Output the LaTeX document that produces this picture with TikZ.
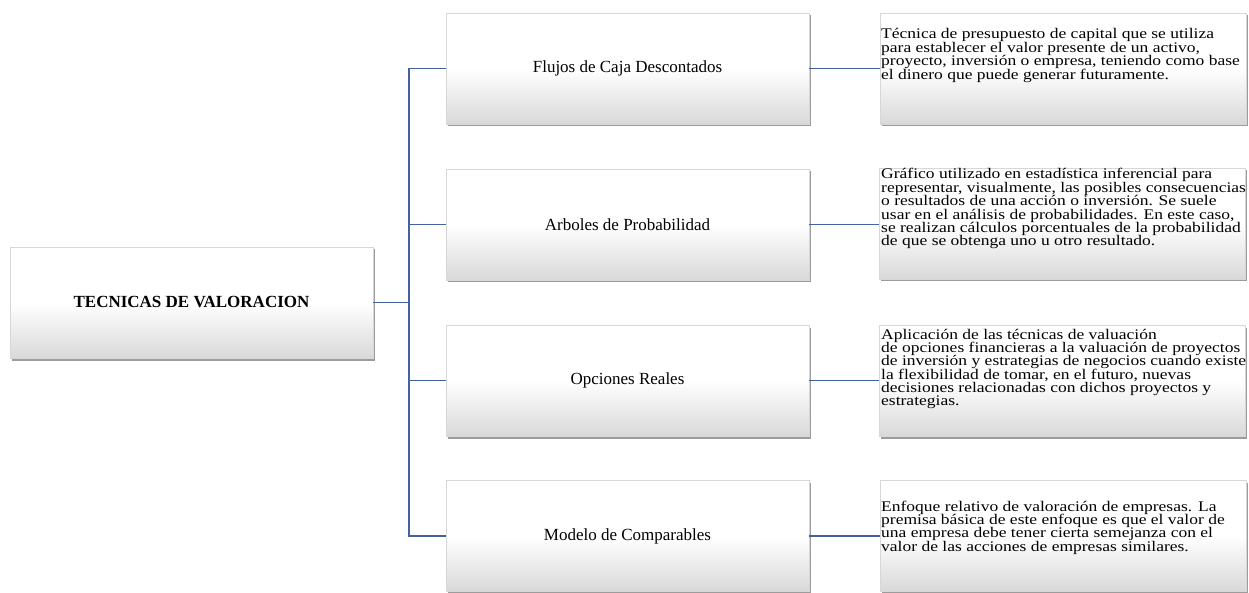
\documentclass[tikz,border=0pt]{standalone}
\usepackage{graphicx}
\usepackage{fontspec}
\setmainfont{Liberation Serif}
\usetikzlibrary{shadows}
\definecolor{linkblue}{RGB}{68,98,160}
\definecolor{boxedge}{RGB}{215,215,215}
\newcommand{\dlines}[1]{\scalebox{1}[0.84]{\vtop{\baselineskip=15.95pt\lineskiplimit=-100pt\lineskip=0pt\halign{##\hfil\cr#1\crcr}}}}
\tikzset{
  box/.style={draw=boxedge, line width=0.6pt, minimum width=363pt, minimum height=111pt,
    top color=white, bottom color=black!15, middle color=white,
    drop shadow={shadow xshift=1.5pt, shadow yshift=-2.5pt, opacity=0.55, fill=black!70},
    font=\fontsize{17}{19}\selectfont, inner sep=0pt},
  descbox/.style={box, minimum width=366pt},
  desctext/.style={anchor=base west, inner sep=0pt,
    font=\fontsize{17.5}{16}\selectfont},
  link/.style={draw=linkblue, line width=1.1pt}
}
\begin{document}
\begin{tikzpicture}[x=1pt,y=-1pt]
\useasboundingbox[fill=white] (0,0) rectangle (1249,593);
% main
\node[box] (main) at (191.5,302.5) {\textbf{TECNICAS DE VALORACION}};
% middle column
\node[box] (m1) at (627.5,68.5) {Flujos de Caja Descontados};
\node[box] (m2) at (627.5,224.5) {Arboles de Probabilidad};
\node[box] (m3) at (627.5,380.5) {Opciones Reales};
\node[box] (m4) at (627.5,536) {Modelo de Comparables};
% right column
\node[descbox] (r1) at (1063,68.5) {};
\node[descbox] (r2) at (1062,223.5) {};
\node[descbox] (r3) at (1062,380.5) {};
\node[descbox] (r4) at (1063,535.5) {};
\node[desctext] (t1) at (881,39) {\dlines{Técnica de presupuesto de capital que se utiliza\cr para establecer el valor presente de un activo,\cr proyecto, inversión o empresa, teniendo como base\cr el dinero que puede generar futuramente.}};
\node[desctext] (t2) at (881,179) {\dlines{Gráfico utilizado en estadística inferencial para\cr representar, visualmente, las posibles consecuencias\cr o resultados de una acción o inversión. Se suele\cr usar en el análisis de probabilidades. En este caso,\cr se realizan cálculos porcentuales de la probabilidad\cr de que se obtenga uno u otro resultado.}};
\node[desctext] (t3) at (881,339) {\dlines{Aplicación de las técnicas de valuación\cr de opciones financieras a la valuación de proyectos\cr de inversión y estrategias de negocios cuando existe\cr la flexibilidad de tomar, en el futuro, nuevas\cr decisiones relacionadas con dichos proyectos y\cr estrategias.}};
\node[desctext] (t4) at (881,511) {\dlines{Enfoque relativo de valoración de empresas. La\cr premisa básica de este enfoque es que el valor de\cr una empresa debe tener cierta semejanza con el\cr valor de las acciones de empresas similares.}};
% connectors
\coordinate (trunk) at (409,302.5);
\draw[link] (main.east) -- (trunk);
\draw[link] (trunk) |- (m1.west);
\draw[link] (trunk) |- (m2.west);
\draw[link] (trunk) |- (m3.west);
\draw[link] (trunk) |- (m4.west);
\draw[link] (m1.east) -- (m1.east -| r1.west);
\draw[link] (m2.east) -- (m2.east -| r2.west);
\draw[link] (m3.east) -- (m3.east -| r3.west);
\draw[link] (m4.east) -- (m4.east -| r4.west);
\end{tikzpicture}
\end{document}
